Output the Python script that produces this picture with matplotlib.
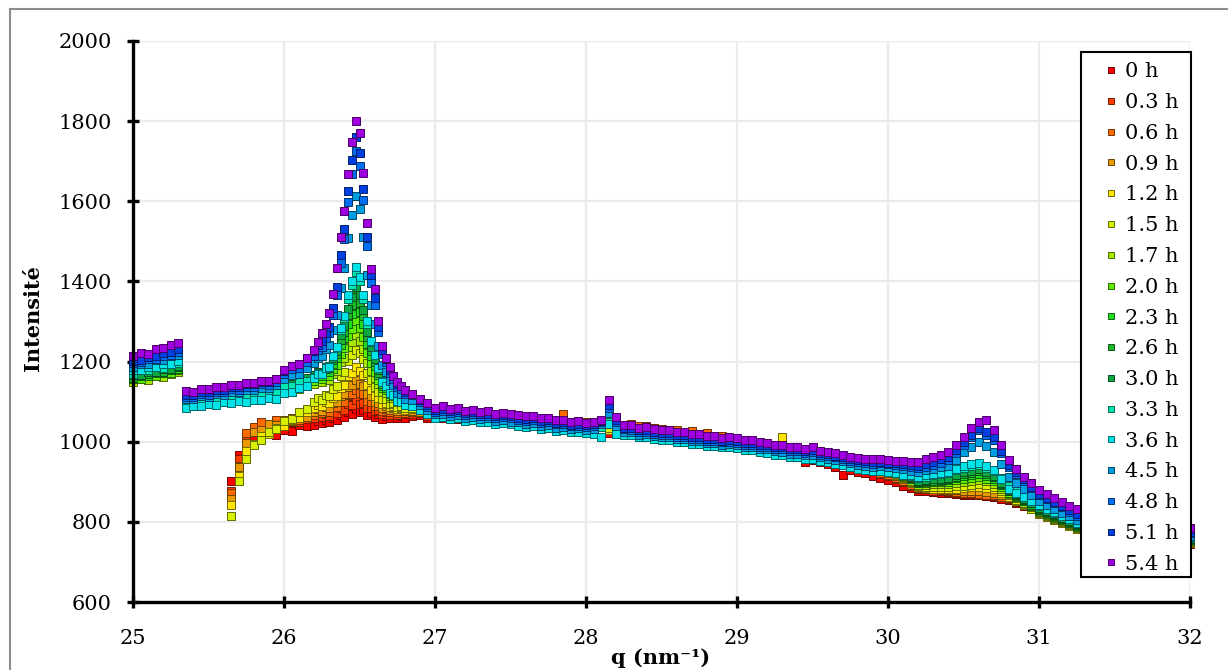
import matplotlib
matplotlib.use("Agg")
import matplotlib.pyplot as plt
import matplotlib.colors as mcolors
from matplotlib.lines import Line2D
from matplotlib.patches import Rectangle
import numpy as np


# q grid (nm-1): coarse, finer around the 26.45 peak, coarse again
# (the last points sit behind the legend, so they are sparser)
q_a = np.round(np.arange(25.0, 26.151, 0.05), 3)
q_b = np.round(np.arange(26.2, 26.801, 0.025), 3)
q_c = np.round(np.concatenate([np.arange(26.85, 31.301, 0.05),
                               np.arange(31.4, 32.001, 0.1)]), 3)
q_all = np.concatenate([q_a, q_b, q_c])

labels = ["0 h", "0.3 h", "0.6 h", "0.9 h", "1.2 h", "1.5 h", "1.7 h", "2.0 h", "2.3 h",
          "2.6 h", "3.0 h", "3.3 h", "3.6 h", "4.5 h", "4.8 h", "5.1 h", "5.4 h"]
colors = ["#ff0000", "#ff3c00", "#ff6a00", "#e89a00", "#ffe600", "#d8f000", "#a6e800",
          "#5cec00", "#1fdc1f", "#1bb82a", "#0aa640", "#00e6b4", "#00e4e8", "#009ee0",
          "#006ef0", "#0040e0", "#a000e0"]

# intensities; the first six runs start at q = 25.65
h00 = [902, 968, 996, 1012, 1008, 1022, 1016, 1030, 1026, 1041, 1038,
       1041, 1052, 1046, 1055, 1049, 1060, 1054, 1066, 1061, 1074, 1068, 1082, 1073,
       1078, 1066, 1072, 1061, 1068, 1057, 1065, 1060, 1066, 1058, 1064, 1060,
       1063, 1066, 1058, 1062, 1059, 1064, 1056, 1060, 1055, 1058,
       1051, 1055, 1049, 1052, 1047, 1050, 1044, 1047, 1041, 1044,
       1038, 1040, 1035, 1038, 1033, 1036, 1022, 1031, 1028, 1030,
       1024, 1026, 1019, 1020, 1016, 1017, 1010, 1012, 1005, 1006,
       1000, 1002, 994, 996, 990, 987, 982, 979, 972, 970,
       964, 962, 950, 955, 949, 945, 938, 918, 930, 925,
       921, 915, 910, 905, 899, 890, 884, 878, 877, 874,
       873, 872, 870, 868, 866, 866, 864, 862, 858, 855,
       848, 840, 833, 825, 817, 808, 800, 791, 783, 775,
       770, 766, 761, 757, 753, 749, 745]
h03 = [878, 958, 1012, 1026, 1038, 1036, 1045, 1042, 1050, 1049, 1057,
       1058, 1066, 1061, 1069, 1064, 1074, 1071, 1084, 1080, 1094, 1092, 1104, 1095,
       1097, 1083, 1085, 1076, 1079, 1070, 1075, 1067, 1073, 1066, 1072, 1068,
       1069, 1072, 1065, 1068, 1071, 1064, 1067, 1070, 1062, 1066,
       1061, 1064, 1056, 1058, 1060, 1053, 1055, 1049, 1052, 1047,
       1049, 1042, 1045, 1042, 1038, 1041, 1030, 1036, 1033, 1035,
       1028, 1031, 1024, 1024, 1021, 1023, 1015, 1017, 1010, 1012,
       1005, 1007, 999, 1000, 996, 993, 988, 986, 980, 979,
       972, 971, 966, 965, 958, 956, 948, 946, 939, 936,
       930, 926, 920, 915, 907, 899, 890, 882, 881, 877,
       878, 875, 873, 870, 870, 868, 866, 864, 861, 858,
       850, 843, 836, 828, 820, 811, 803, 795, 786, 778,
       774, 769, 765, 761, 757, 752, 748]
h06 = [872, 940, 1022, 1036, 1048, 1044, 1053, 1050, 1059, 1055, 1064,
       1066, 1075, 1071, 1079, 1075, 1086, 1086, 1101, 1100, 1117, 1119, 1130, 1121,
       1119, 1102, 1099, 1088, 1089, 1077, 1082, 1074, 1079, 1072, 1077, 1071,
       1074, 1077, 1070, 1072, 1075, 1068, 1071, 1066, 1069, 1072,
       1064, 1066, 1061, 1063, 1058, 1060, 1055, 1057, 1052, 1055,
       1068, 1050, 1052, 1048, 1050, 1045, 1035, 1046, 1041, 1043,
       1038, 1040, 1034, 1032, 1028, 1030, 1024, 1026, 1019, 1021,
       1013, 1015, 1007, 1003, 1001, 997, 994, 989, 986, 981,
       977, 974, 969, 968, 962, 958, 953, 948, 943, 938,
       933, 928, 923, 918, 910, 902, 893, 885, 883, 881,
       879, 877, 874, 872, 871, 870, 868, 866, 863, 860,
       853, 845, 838, 830, 822, 813, 805, 797, 788, 780,
       776, 771, 767, 763, 758, 754, 750]
h09 = [858, 938, 996, 1025, 1029, 1043, 1042, 1053, 1052, 1063, 1062,
       1073, 1081, 1077, 1087, 1084, 1096, 1098, 1114, 1119, 1137, 1142, 1155, 1145,
       1140, 1120, 1113, 1100, 1097, 1085, 1088, 1080, 1083, 1076, 1081, 1076,
       1077, 1074, 1079, 1073, 1070, 1074, 1068, 1071, 1066, 1068,
       1064, 1067, 1061, 1060, 1063, 1057, 1055, 1058, 1051, 1053,
       1048, 1050, 1045, 1043, 1046, 1040, 1032, 1039, 1034, 1036,
       1031, 1033, 1027, 1025, 1023, 1020, 1018, 1013, 1012, 1007,
       1008, 1002, 1004, 1003, 997, 995, 990, 988, 982, 980,
       976, 973, 968, 970, 963, 958, 954, 948, 945, 938,
       935, 929, 926, 922, 914, 906, 897, 888, 886, 884,
       882, 880, 879, 878, 877, 876, 874, 872, 867, 862,
       855, 847, 840, 832, 824, 815, 807, 798, 790, 782,
       778, 773, 769, 765, 760, 756, 752]
h12 = [842, 915, 978, 995, 1015, 1019, 1035, 1039, 1055, 1059, 1074,
       1083, 1092, 1089, 1098, 1096, 1110, 1114, 1134, 1141, 1163, 1171, 1186, 1176,
       1166, 1141, 1130, 1115, 1109, 1094, 1096, 1087, 1089, 1081, 1085, 1080,
       1081, 1078, 1075, 1074, 1076, 1071, 1073, 1068, 1070, 1066,
       1068, 1063, 1065, 1059, 1061, 1056, 1058, 1052, 1054, 1049,
       1051, 1045, 1047, 1042, 1044, 1039, 1028, 1036, 1038, 1032,
       1033, 1028, 1026, 1024, 1022, 1018, 1019, 1013, 1014, 1008,
       1009, 1004, 1001, 1003, 997, 998, 992, 990, 985, 1012,
       978, 980, 973, 972, 966, 962, 957, 952, 948, 942,
       937, 932, 928, 925, 916, 906, 896, 886, 884, 883,
       881, 882, 883, 884, 886, 888, 885, 882, 872, 862,
       852, 841, 831, 820, 812, 805, 797, 790, 783, 775,
       771, 767, 763, 759, 755, 751, 748]
h15 = [815, 903, 957, 993, 1005, 1025, 1032, 1051, 1057, 1075, 1082,
       1099, 1108, 1105, 1116, 1114, 1131, 1139, 1164, 1175, 1202, 1217, 1230, 1222,
       1206, 1172, 1155, 1136, 1124, 1107, 1106, 1095, 1096, 1087, 1090, 1084,
       1084, 1080, 1077, 1075, 1078, 1072, 1074, 1069, 1071, 1066,
       1068, 1062, 1065, 1060, 1062, 1057, 1054, 1056, 1051, 1053,
       1047, 1049, 1044, 1043, 1045, 1040, 1035, 1037, 1034, 1036,
       1030, 1032, 1027, 1025, 1027, 1021, 1019, 1016, 1014, 1010,
       1008, 1010, 1004, 1004, 999, 996, 993, 991, 987, 985,
       980, 978, 975, 974, 968, 964, 959, 954, 949, 944,
       940, 935, 931, 928, 920, 910, 900, 890, 888, 887,
       886, 887, 889, 890, 893, 895, 892, 888, 877, 866,
       855, 844, 833, 822, 814, 806, 799, 791, 784, 776,
       772, 768, 765, 761, 757, 754, 750]
h17 = [1148, 1156, 1154, 1163, 1162, 1170, 1173,
       1096, 1101, 1100, 1106, 1104, 1110, 1107, 1113, 1111, 1117, 1115, 1121, 1119,
       1128, 1132, 1132, 1139,
       1144, 1151, 1148, 1156, 1154, 1169, 1176, 1199, 1209, 1236, 1249, 1266, 1251,
       1232, 1197, 1177, 1158, 1144, 1124, 1122, 1110, 1109, 1098, 1100, 1093,
       1092, 1087, 1081, 1076, 1078, 1073, 1075, 1070, 1072, 1067,
       1069, 1064, 1066, 1060, 1062, 1057, 1059, 1053, 1055, 1049,
       1050, 1045, 1047, 1043, 1044, 1040, 1045, 1038, 1036, 1034,
       1032, 1029, 1030, 1025, 1026, 1021, 1022, 1016, 1015, 1011,
       1010, 1006, 1007, 1004, 1000, 998, 994, 992, 988, 985,
       982, 979, 977, 975, 970, 966, 961, 957, 951, 946,
       942, 937, 935, 932, 923, 913, 903, 893, 893, 894,
       894, 895, 898, 900, 903, 905, 901, 895, 883, 870,
       859, 848, 836, 825, 817, 809, 801, 794, 786, 778,
       774, 770, 767, 763, 759, 756, 752]
h20 = [1157, 1157, 1165, 1165, 1172, 1172, 1179,
       1102, 1100, 1106, 1104, 1110, 1108, 1114, 1112, 1118, 1116, 1122, 1120, 1126,
       1130, 1138, 1137, 1146,
       1152, 1159, 1157, 1166, 1165, 1182, 1192, 1219, 1233, 1264, 1282, 1302, 1285,
       1262, 1221, 1196, 1173, 1155, 1133, 1129, 1115, 1114, 1102, 1103, 1096,
       1095, 1089, 1082, 1076, 1073, 1075, 1070, 1073, 1068, 1070,
       1065, 1067, 1062, 1060, 1058, 1061, 1055, 1057, 1052, 1054,
       1048, 1050, 1045, 1043, 1040, 1044, 1048, 1039, 1037, 1035,
       1034, 1029, 1030, 1025, 1023, 1024, 1018, 1019, 1013, 1014,
       1008, 1009, 1003, 1004, 1001, 997, 996, 991, 990, 985,
       983, 980, 978, 976, 971, 967, 963, 958, 953, 949,
       944, 941, 937, 935, 925, 915, 906, 896, 897, 899,
       899, 900, 905, 908, 910, 913, 908, 902, 888, 873,
       862, 851, 839, 828, 820, 812, 804, 796, 788, 780,
       776, 772, 769, 765, 761, 758, 754]
h23 = [1156, 1164, 1163, 1171, 1171, 1178, 1181,
       1104, 1102, 1108, 1106, 1112, 1110, 1116, 1114, 1120, 1118, 1124, 1122, 1128,
       1134, 1141, 1141, 1150,
       1158, 1166, 1165, 1174, 1175, 1194, 1208, 1241, 1258, 1295, 1318, 1342, 1323,
       1293, 1245, 1214, 1189, 1166, 1140, 1135, 1120, 1118, 1105, 1105, 1097,
       1097, 1090, 1083, 1076, 1079, 1073, 1075, 1069, 1071, 1066,
       1068, 1063, 1064, 1059, 1061, 1056, 1057, 1051, 1053, 1048,
       1049, 1044, 1046, 1042, 1043, 1039, 1050, 1040, 1035, 1037,
       1031, 1032, 1027, 1024, 1026, 1020, 1021, 1016, 1015, 1010,
       1011, 1005, 1006, 1003, 999, 998, 993, 992, 987, 986,
       981, 980, 976, 976, 970, 967, 962, 958, 952, 949,
       945, 940, 939, 937, 927, 917, 908, 898, 900, 902,
       902, 904, 909, 914, 917, 920, 914, 907, 892, 876,
       864, 853, 841, 830, 822, 814, 806, 798, 790, 782,
       778, 774, 770, 766, 762, 759, 755]
h26 = [1160, 1168, 1168, 1176, 1175, 1183, 1186,
       1106, 1104, 1110, 1108, 1114, 1112, 1118, 1116, 1122, 1121, 1127, 1125, 1131,
       1138, 1145, 1146, 1155,
       1162, 1171, 1170, 1181, 1183, 1203, 1219, 1255, 1275, 1315, 1341, 1366, 1346,
       1313, 1261, 1226, 1198, 1172, 1145, 1139, 1123, 1119, 1107, 1107, 1098,
       1097, 1091, 1082, 1075, 1072, 1074, 1068, 1070, 1065, 1067,
       1062, 1064, 1058, 1058, 1055, 1057, 1051, 1052, 1047, 1049,
       1044, 1046, 1040, 1041, 1038, 1042, 1052, 1041, 1034, 1036,
       1030, 1031, 1025, 1023, 1024, 1019, 1020, 1014, 1013, 1009,
       1008, 1004, 1004, 1002, 997, 997, 992, 991, 986, 985,
       980, 979, 975, 976, 969, 966, 962, 957, 953, 948,
       945, 941, 940, 938, 928, 919, 909, 900, 902, 903,
       905, 907, 913, 920, 923, 927, 920, 912, 895, 878,
       866, 855, 843, 832, 824, 816, 808, 800, 792, 784,
       780, 776, 772, 768, 764, 760, 756]
h30 = [1167, 1167, 1175, 1175, 1182, 1182, 1189,
       1103, 1109, 1107, 1113, 1111, 1118, 1116, 1122, 1120, 1126, 1124, 1130, 1129,
       1144, 1144, 1153, 1158,
       1166, 1175, 1174, 1186, 1188, 1210, 1227, 1266, 1289, 1332, 1360, 1387, 1366,
       1329, 1274, 1236, 1206, 1178, 1148, 1142, 1126, 1121, 1108, 1107, 1099,
       1098, 1090, 1080, 1073, 1075, 1070, 1072, 1066, 1068, 1063,
       1065, 1060, 1061, 1056, 1058, 1053, 1054, 1049, 1050, 1045,
       1046, 1041, 1043, 1039, 1040, 1042, 1052, 1040, 1032, 1034,
       1028, 1029, 1023, 1021, 1022, 1017, 1018, 1012, 1011, 1006,
       1007, 1002, 1002, 1000, 996, 995, 991, 989, 985, 983,
       979, 978, 974, 975, 968, 965, 961, 956, 952, 947,
       944, 940, 941, 938, 929, 920, 911, 902, 904, 906,
       908, 910, 917, 924, 928, 932, 924, 915, 898, 880,
       869, 858, 846, 835, 827, 819, 810, 802, 794, 786,
       782, 778, 774, 770, 766, 762, 758]
h33 = [1170, 1178, 1178, 1186, 1185, 1193, 1196,
       1093, 1099, 1098, 1104, 1103, 1109, 1107, 1114, 1112, 1119, 1117, 1123, 1122,
       1139, 1139, 1149, 1151,
       1161, 1172, 1172, 1185, 1189, 1214, 1236, 1280, 1308, 1357, 1392, 1423, 1400,
       1357, 1294, 1249, 1216, 1183, 1151, 1142, 1125, 1119, 1105, 1104, 1095,
       1094, 1085, 1074, 1066, 1068, 1063, 1065, 1059, 1061, 1056,
       1058, 1053, 1055, 1050, 1051, 1046, 1048, 1042, 1043, 1038,
       1039, 1034, 1036, 1032, 1033, 1036, 1048, 1034, 1026, 1027,
       1021, 1022, 1016, 1014, 1015, 1009, 1010, 1004, 1003, 998,
       999, 994, 994, 992, 988, 987, 982, 980, 976, 974,
       970, 969, 965, 966, 960, 957, 952, 948, 944, 940,
       937, 935, 934, 932, 926, 921, 915, 910, 913, 916,
       919, 922, 929, 935, 939, 942, 935, 928, 909, 890,
       877, 865, 852, 840, 832, 823, 815, 806, 798, 790,
       786, 781, 777, 773, 768, 764, 760]
h36 = [1180, 1180, 1187, 1187, 1195, 1194, 1201,
       1084, 1090, 1088, 1094, 1092, 1098, 1096, 1101, 1099, 1105, 1103, 1108, 1106,
       1122, 1125, 1134, 1140,
       1158, 1168, 1169, 1183, 1187, 1214, 1237, 1283, 1314, 1365, 1402, 1435, 1411,
       1366, 1300, 1252, 1217, 1183, 1149, 1139, 1121, 1116, 1101, 1100, 1091,
       1090, 1080, 1068, 1060, 1062, 1056, 1058, 1052, 1054, 1048,
       1050, 1044, 1046, 1043, 1040, 1037, 1039, 1032, 1034, 1027,
       1029, 1023, 1025, 1022, 1020, 1012, 1045, 1020, 1016, 1017,
       1011, 1012, 1006, 1004, 1005, 999, 1000, 994, 995, 989,
       990, 986, 987, 984, 979, 979, 974, 973, 968, 967,
       962, 961, 957, 958, 951, 949, 944, 941, 936, 933,
       930, 928, 927, 925, 921, 918, 916, 913, 916, 919,
       922, 925, 932, 940, 944, 947, 939, 930, 906, 882,
       872, 862, 852, 842, 833, 824, 815, 806, 797, 788,
       784, 780, 777, 773, 769, 766, 762]
h45 = [1186, 1195, 1195, 1204, 1204, 1213, 1216,
       1107, 1106, 1113, 1112, 1118, 1117, 1124, 1123, 1130, 1129, 1135, 1134, 1141,
       1157, 1167, 1170, 1183,
       1196, 1208, 1214, 1231, 1241, 1278, 1317, 1384, 1433, 1508, 1567, 1613, 1580,
       1511, 1415, 1341, 1293, 1238, 1191, 1175, 1152, 1141, 1122, 1119, 1107,
       1104, 1091, 1079, 1068, 1070, 1064, 1066, 1060, 1062, 1056,
       1058, 1052, 1054, 1050, 1048, 1045, 1046, 1040, 1041, 1035,
       1036, 1031, 1033, 1030, 1032, 1045, 1072, 1040, 1025, 1024,
       1018, 1019, 1014, 1012, 1012, 1006, 1007, 1002, 1002, 997,
       997, 993, 994, 992, 987, 987, 982, 981, 976, 975,
       970, 970, 966, 968, 961, 958, 954, 951, 946, 943,
       940, 938, 940, 938, 935, 931, 928, 925, 929, 933,
       936, 940, 955, 975, 988, 1000, 990, 975, 944, 913,
       897, 882, 867, 852, 842, 833, 823, 814, 804, 795,
       790, 786, 782, 777, 773, 769, 765]
h48 = [1197, 1198, 1206, 1207, 1215, 1216, 1223,
       1112, 1111, 1118, 1117, 1125, 1124, 1131, 1130, 1137, 1136, 1143, 1142, 1150,
       1169, 1181, 1185, 1199,
       1214, 1229, 1237, 1258, 1272, 1316, 1366, 1445, 1506, 1597, 1669, 1725, 1687,
       1602, 1488, 1397, 1341, 1274, 1218, 1198, 1171, 1157, 1136, 1132, 1119,
       1116, 1100, 1086, 1075, 1077, 1071, 1073, 1067, 1069, 1063,
       1065, 1059, 1061, 1058, 1055, 1052, 1053, 1047, 1049, 1043,
       1044, 1038, 1040, 1037, 1040, 1048, 1085, 1050, 1031, 1030,
       1024, 1025, 1020, 1018, 1018, 1012, 1013, 1008, 1008, 1003,
       1003, 999, 1000, 998, 993, 993, 988, 987, 983, 982,
       977, 977, 973, 975, 968, 965, 961, 958, 953, 950,
       947, 945, 946, 944, 941, 939, 937, 934, 938, 943,
       948, 954, 972, 992, 1011, 1029, 1018, 1004, 971, 937,
       919, 902, 884, 867, 856, 846, 836, 825, 815, 805,
       800, 795, 790, 786, 781, 776, 772]
h51 = [1202, 1203, 1212, 1213, 1222, 1223, 1231,
       1117, 1116, 1124, 1123, 1130, 1130, 1137, 1136, 1144, 1143, 1150, 1150, 1157,
       1177, 1189, 1195, 1209,
       1226, 1241, 1251, 1271, 1287, 1333, 1385, 1467, 1531, 1626, 1703, 1760, 1720,
       1631, 1512, 1416, 1358, 1287, 1229, 1207, 1179, 1164, 1143, 1138, 1125,
       1120, 1105, 1091, 1080, 1082, 1076, 1078, 1072, 1074, 1068,
       1070, 1064, 1066, 1063, 1060, 1057, 1058, 1052, 1053, 1047,
       1048, 1042, 1044, 1041, 1044, 1052, 1092, 1055, 1035, 1034,
       1028, 1029, 1024, 1022, 1022, 1016, 1017, 1012, 1012, 1007,
       1007, 1003, 1004, 1002, 997, 997, 992, 991, 987, 986,
       981, 981, 977, 979, 972, 969, 965, 962, 957, 954,
       951, 950, 950, 948, 946, 944, 942, 940, 945, 950,
       956, 962, 980, 1000, 1018, 1035, 1024, 1012, 978, 943,
       924, 906, 888, 870, 860, 850, 840, 830, 820, 810,
       805, 800, 795, 790, 785, 780, 775]
h54 = [1214, 1222, 1220, 1231, 1234, 1242, 1247,
       1127, 1124, 1132, 1131, 1137, 1136, 1142, 1141, 1147, 1146, 1152, 1151, 1157,
       1179, 1189, 1195, 1210,
       1228, 1248, 1272, 1295, 1322, 1368, 1434, 1510, 1577, 1668, 1748, 1800, 1771,
       1670, 1545, 1432, 1380, 1300, 1240, 1210, 1186, 1165, 1150, 1138, 1128,
       1118, 1106, 1096, 1085, 1088, 1081, 1084, 1077, 1079, 1073,
       1076, 1070, 1072, 1070, 1066, 1063, 1064, 1058, 1059, 1053,
       1055, 1049, 1051, 1047, 1050, 1055, 1105, 1062, 1042, 1041,
       1035, 1036, 1031, 1030, 1029, 1024, 1025, 1019, 1019, 1014,
       1014, 1010, 1011, 1010, 1004, 1004, 999, 998, 993, 992,
       988, 987, 983, 986, 978, 975, 971, 968, 963, 960,
       957, 956, 956, 955, 953, 951, 950, 950, 956, 962,
       968, 975, 993, 1013, 1033, 1050, 1054, 1030, 992, 954,
       933, 913, 897, 880, 870, 860, 850, 840, 831, 822,
       816, 810, 805, 800, 795, 790, 785]

series = [h00, h03, h06, h09, h12, h15, h17, h20, h23, h26, h30, h33, h36, h45, h48, h51, h54]

plt.rcParams["font.family"] = ["DejaVu Serif"]
fs = 15

W, H = 1228, 670
fig = plt.figure(figsize=(W / 100, H / 100), dpi=100)
ax = fig.add_axes([133 / W, 1 - 602 / H, (1190 - 133) / W, (602 - 41) / H])

handles = []
for vals, lab, col in zip(series, labels, colors):
    v = np.array(vals, dtype=float)
    assert len(v) in (len(q_all), len(q_all) - 13), (lab, len(v))
    q = q_all[-len(v):]
    edge = tuple(c * 0.45 for c in mcolors.to_rgb(col))
    ln, = ax.plot(q, v, "s", ms=5.2, mfc=col, mec=edge, mew=0.7,
                  clip_on=False, label=lab)
    handles.append(ln)

ax.set_xlim(25, 32)
ax.set_ylim(600, 2000)
ax.set_xticks(np.arange(25, 33, 1))
ax.set_yticks(np.arange(600, 2001, 200))
ax.grid(True, color="#ebebeb", linewidth=1.6)
ax.set_axisbelow(True)
for s in ["top", "right"]:
    ax.spines[s].set_visible(False)
for s in ["left", "bottom"]:
    ax.spines[s].set_linewidth(2.4)
ax.tick_params(axis="both", direction="inout", length=9, width=2.4, labelsize=fs)
ax.tick_params(axis="y", pad=11)
ax.tick_params(axis="x", pad=15)

fig.text(661 / W, 1 - 658 / H, "q (nm\u207b\u00b9)", ha="center", va="center",
         fontsize=fs, fontweight="bold")
fig.text(33 / W, 1 - 318 / H, "Intensité", rotation=90, ha="center", va="center",
         fontsize=fs, fontweight="bold")

# legend box drawn by hand so its size matches, legend itself without frame
box = Rectangle((1081 / W, 1 - 577 / H), 110 / W, 525 / H, transform=fig.transFigure,
                facecolor="white", edgecolor="black", linewidth=1.5, zorder=4)
fig.add_artist(box)
fig.legend(handles=handles, loc="upper left", bbox_to_anchor=(1081 / W, 1 - 52 / H),
           frameon=False, fontsize=fs, borderpad=0.5, borderaxespad=0,
           handlelength=1.9, handletextpad=-0.3, labelspacing=0.565,
           markerscale=0.85, numpoints=1)

# thin grey frame round the chart area
fig.add_artist(Line2D([10 / W, 10 / W], [0, 1 - 9 / H], transform=fig.transFigure,
                      color="#8c8c8c", linewidth=1.5))
fig.add_artist(Line2D([10 / W, 1], [1 - 9 / H, 1 - 9 / H], transform=fig.transFigure,
                      color="#8c8c8c", linewidth=1.5))

fig.savefig("out.png", dpi=100)
